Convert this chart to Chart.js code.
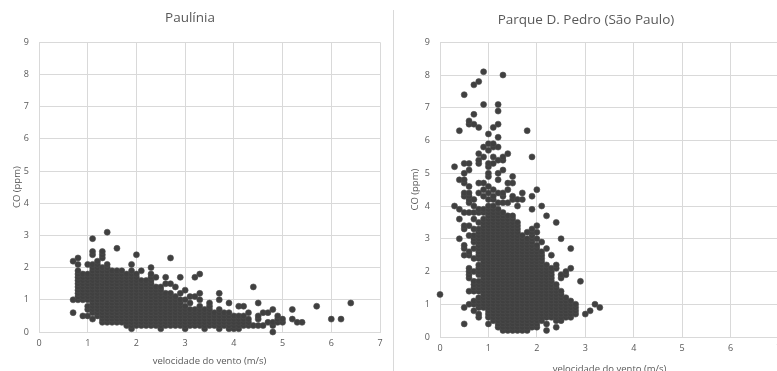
<!DOCTYPE html>
<html>
<head>
<meta charset="utf-8">
<script src="https://cdn.jsdelivr.net/npm/chart.js@4.4.1/dist/chart.umd.min.js"></script>
<style>
  html, body { margin: 0; padding: 0; background: #fff; overflow: hidden; width: 777px; height: 371px; }
  #left { position: absolute; left: 0; top: 0; }
  #right { position: absolute; left: 393px; top: 0; }
  #divider { position: absolute; left: 393px; top: 10px; width: 1px; height: 361px; background: #d9d9d9; }
</style>
</head>
<body>
<canvas id="left" width="390" height="371"></canvas>
<div id="divider"></div>
<canvas id="right" width="396" height="380"></canvas>
<script>
// wind speed columns (m/s) and the CO readings (ppm) seen in each column
const pauliniaWind = [0.7, 0.8, 0.9, 1.0, 1.1, 1.2, 1.3, 1.4, 1.5, 1.6, 1.7, 1.8, 1.9, 2.0, 2.1, 2.2, 2.3, 2.4, 2.5, 2.6, 2.7, 2.8, 2.9, 3.0, 3.1, 3.2, 3.3, 3.4, 3.5, 3.6, 3.7, 3.8, 3.9, 4.0, 4.1, 4.2, 4.3, 4.4, 4.5, 4.6, 4.7, 4.8, 4.9, 5.0, 5.2, 5.3, 5.4, 5.7, 6.0, 6.2, 6.4];
const pauliniaCO = [
  [0.6, 1.0, 2.2],
  [1.0, 1.1, 1.2, 1.3, 1.4, 1.5, 1.6, 1.7, 1.8, 1.9, 2.1, 2.3],
  [0.5, 1.0, 1.1, 1.2, 1.3, 1.4, 1.5, 1.6, 1.7, 1.8],
  [0.5, 0.7, 0.8, 1.0, 1.1, 1.2, 1.3, 1.4, 1.5, 1.6, 1.7, 1.8, 2.1],
  [0.4, 0.6, 0.7, 0.8, 0.9, 1.0, 1.1, 1.2, 1.3, 1.4, 1.5, 1.6, 1.7, 1.8, 1.9, 2.0, 2.1, 2.4, 2.5, 2.9],
  [0.5, 0.6, 0.7, 0.8, 0.9, 1.0, 1.1, 1.2, 1.3, 1.4, 1.5, 1.6, 1.7, 1.8, 1.9, 2.0, 2.1, 2.2],
  [0.3, 0.4, 0.5, 0.6, 0.7, 0.8, 0.9, 1.0, 1.1, 1.2, 1.3, 1.4, 1.5, 1.6, 1.7, 1.8, 1.9, 2.0, 2.3, 2.4, 2.5],
  [0.3, 0.4, 0.5, 0.6, 0.7, 0.8, 0.9, 1.0, 1.1, 1.2, 1.3, 1.4, 1.5, 1.6, 1.7, 1.8, 1.9, 2.0, 2.1, 3.1],
  [0.3, 0.4, 0.5, 0.6, 0.7, 0.8, 0.9, 1.0, 1.1, 1.2, 1.3, 1.4, 1.5, 1.6, 1.7, 1.8, 1.9],
  [0.3, 0.4, 0.5, 0.6, 0.7, 0.8, 0.9, 1.0, 1.1, 1.2, 1.3, 1.4, 1.5, 1.6, 1.7, 1.8, 1.9, 2.6],
  [0.3, 0.4, 0.5, 0.6, 0.7, 0.8, 0.9, 1.0, 1.1, 1.2, 1.3, 1.4, 1.5, 1.6, 1.7, 1.8, 1.9],
  [0.2, 0.3, 0.4, 0.5, 0.6, 0.7, 0.8, 0.9, 1.0, 1.1, 1.2, 1.3, 1.4, 1.5, 1.6, 1.7, 1.8],
  [0.1, 0.2, 0.3, 0.4, 0.5, 0.6, 0.7, 0.8, 0.9, 1.0, 1.1, 1.2, 1.3, 1.4, 1.5, 1.6, 1.7, 1.8, 1.9, 2.1],
  [0.2, 0.3, 0.4, 0.5, 0.6, 0.7, 0.8, 0.9, 1.0, 1.1, 1.2, 1.3, 1.4, 1.5, 1.6, 1.7, 1.8, 2.4],
  [0.2, 0.3, 0.4, 0.5, 0.6, 0.7, 0.8, 0.9, 1.0, 1.1, 1.2, 1.3, 1.4, 1.5, 1.6, 1.9],
  [0.2, 0.3, 0.4, 0.5, 0.6, 0.7, 0.8, 0.9, 1.0, 1.1, 1.2, 1.3, 1.4, 1.5, 1.6],
  [0.2, 0.3, 0.4, 0.5, 0.6, 0.7, 0.8, 0.9, 1.0, 1.1, 1.2, 1.3, 1.4, 1.5, 1.6, 1.7, 1.8, 2.0],
  [0.2, 0.3, 0.4, 0.5, 0.6, 0.7, 0.8, 0.9, 1.0, 1.1, 1.2, 1.3, 1.4, 1.7],
  [0.1, 0.2, 0.3, 0.4, 0.5, 0.6, 0.7, 0.8, 0.9, 1.0, 1.1, 1.2, 1.3, 1.4],
  [0.2, 0.3, 0.4, 0.5, 0.6, 0.7, 0.8, 0.9, 1.0, 1.1, 1.2, 1.5, 1.7],
  [0.2, 0.3, 0.4, 0.5, 0.6, 0.7, 0.8, 0.9, 1.0, 1.1, 1.2, 1.5, 2.3],
  [0.2, 0.3, 0.4, 0.5, 0.6, 0.7, 0.8, 0.9, 1.0, 1.1, 1.4],
  [0.2, 0.3, 0.4, 0.5, 0.6, 0.7, 0.8, 0.9, 1.0, 1.2, 1.7],
  [0.1, 0.2, 0.3, 0.4, 0.5, 0.6, 0.7, 0.8, 1.0, 1.3],
  [0.2, 0.3, 0.4, 0.5, 0.6, 0.7, 0.9, 1.1],
  [0.2, 0.3, 0.4, 0.5, 0.6, 0.7, 1.1, 1.7],
  [0.2, 0.3, 0.4, 0.5, 0.6, 0.7, 0.8, 1.0, 1.2, 1.8],
  [0.1, 0.2, 0.3, 0.4, 0.5, 0.6, 0.7],
  [0.2, 0.3, 0.4, 0.5, 0.6, 0.7, 0.8, 0.9],
  [0.2, 0.3, 0.4, 0.5, 0.6],
  [0.1, 0.2, 0.3, 0.4, 0.5, 0.6, 0.7, 1.0, 1.2],
  [0.2, 0.3, 0.4, 0.5, 0.6],
  [0.1, 0.2, 0.3, 0.4, 0.5, 0.6, 0.9],
  [0.1, 0.2, 0.3, 0.4, 0.5],
  [0.1, 0.2, 0.3, 0.4, 0.5, 0.8],
  [0.2, 0.3, 0.4, 0.5, 0.8],
  [0.2, 0.3, 0.4, 0.6],
  [0.2, 1.4],
  [0.2, 0.4, 0.5, 0.9],
  [0.2, 0.6],
  [0.3, 0.6],
  [0.0, 0.2, 0.3, 0.7],
  [0.3, 0.4, 0.5],
  [0.3, 0.4],
  [0.4, 0.7],
  [0.3],
  [0.3],
  [0.8],
  [0.4],
  [0.4],
  [0.9]
];

const pedroWind = [0.0, 0.3, 0.4, 0.5, 0.6, 0.7, 0.8, 0.9, 1.0, 1.1, 1.2, 1.3, 1.4, 1.5, 1.6, 1.7, 1.8, 1.9, 2.0, 2.1, 2.2, 2.3, 2.4, 2.5, 2.6, 2.7, 2.8, 2.9, 3.0, 3.1, 3.2, 3.3];
const pedroCO = [
  [1.3],
  [4.0, 5.2],
  [3.0, 3.6, 3.9, 4.8, 6.3],
  [0.4, 0.9, 2.5, 2.7, 2.8, 3.3, 3.4, 3.8, 4.3, 4.4, 4.7, 4.8, 5.0, 5.3, 7.4],
  [1.0, 1.4, 1.8, 1.9, 2.0, 2.1, 2.5, 2.6, 3.1, 3.4, 3.8, 4.1, 4.2, 4.3, 4.4, 4.6, 5.1, 5.3, 6.5, 6.6],
  [0.8, 1.0, 1.1, 1.4, 1.5, 1.6, 1.7, 2.0, 2.4, 2.7, 2.9, 3.0, 3.1, 3.3, 3.6, 3.8, 4.0, 4.2, 6.5, 6.8, 7.7],
  [0.6, 0.7, 0.9, 1.0, 1.1, 1.2, 1.4, 1.5, 1.6, 1.7, 1.9, 2.0, 2.1, 2.2, 2.4, 2.5, 2.6, 2.7, 2.8, 2.9, 3.0, 3.1, 3.2, 3.3, 3.5, 3.8, 3.9, 4.4, 4.7, 5.3, 5.4, 5.6, 6.4, 7.8],
  [0.9, 1.0, 1.1, 1.2, 1.3, 1.4, 1.5, 1.6, 1.7, 1.8, 1.9, 2.0, 2.1, 2.2, 2.3, 2.4, 2.5, 2.6, 2.7, 2.8, 2.9, 3.0, 3.1, 3.2, 3.3, 3.4, 3.5, 3.6, 3.8, 3.9, 4.3, 4.5, 4.7, 5.5, 5.8, 7.1, 8.1],
  [0.4, 0.6, 0.7, 0.8, 0.9, 1.0, 1.1, 1.2, 1.3, 1.4, 1.5, 1.6, 1.7, 1.8, 1.9, 2.0, 2.1, 2.2, 2.3, 2.4, 2.5, 2.6, 2.7, 2.8, 2.9, 3.0, 3.1, 3.2, 3.3, 3.4, 3.5, 3.6, 3.7, 3.8, 3.9, 4.0, 4.2, 4.4, 4.6, 4.9, 5.0, 5.2, 5.3, 5.7, 5.9, 6.2],
  [0.5, 0.6, 0.7, 0.8, 0.9, 1.0, 1.1, 1.2, 1.3, 1.4, 1.5, 1.6, 1.7, 1.8, 1.9, 2.0, 2.1, 2.2, 2.3, 2.4, 2.5, 2.6, 2.7, 2.8, 2.9, 3.0, 3.1, 3.2, 3.3, 3.4, 3.5, 3.6, 3.7, 3.8, 3.9, 4.0, 4.2, 4.3, 4.5, 5.3, 5.5, 5.8, 5.9, 6.4],
  [0.3, 0.4, 0.5, 0.6, 0.7, 0.8, 0.9, 1.0, 1.1, 1.2, 1.3, 1.4, 1.5, 1.6, 1.7, 1.8, 1.9, 2.0, 2.1, 2.2, 2.3, 2.4, 2.5, 2.6, 2.7, 2.8, 2.9, 3.0, 3.1, 3.2, 3.3, 3.4, 3.5, 3.6, 3.7, 3.8, 3.9, 4.1, 4.4, 4.8, 5.0, 5.4, 5.8, 6.1, 6.5, 6.9, 7.1],
  [0.2, 0.3, 0.4, 0.5, 0.6, 0.7, 0.8, 0.9, 1.0, 1.1, 1.2, 1.3, 1.4, 1.5, 1.6, 1.7, 1.8, 1.9, 2.0, 2.1, 2.2, 2.3, 2.4, 2.5, 2.6, 2.7, 2.8, 2.9, 3.0, 3.1, 3.2, 3.3, 3.4, 3.5, 3.6, 3.7, 3.8, 4.1, 4.3, 4.4, 5.1, 5.4, 5.5, 8.0],
  [0.2, 0.3, 0.4, 0.5, 0.6, 0.7, 0.8, 0.9, 1.0, 1.1, 1.2, 1.3, 1.4, 1.5, 1.6, 1.7, 1.8, 1.9, 2.0, 2.1, 2.2, 2.3, 2.4, 2.5, 2.6, 2.7, 2.8, 2.9, 3.0, 3.1, 3.2, 3.3, 3.4, 3.5, 3.6, 3.7, 4.1, 4.5, 4.7, 5.6],
  [0.2, 0.3, 0.4, 0.5, 0.6, 0.7, 0.8, 0.9, 1.0, 1.1, 1.2, 1.3, 1.4, 1.5, 1.6, 1.7, 1.8, 1.9, 2.0, 2.1, 2.2, 2.3, 2.4, 2.5, 2.6, 2.7, 2.8, 2.9, 3.0, 3.1, 3.2, 3.3, 3.4, 3.5, 3.6, 3.7, 4.2, 4.3, 4.7, 4.9],
  [0.2, 0.3, 0.4, 0.5, 0.6, 0.7, 0.8, 0.9, 1.0, 1.1, 1.2, 1.3, 1.4, 1.5, 1.6, 1.7, 1.8, 1.9, 2.0, 2.1, 2.2, 2.3, 2.4, 2.5, 2.6, 2.7, 2.8, 2.9, 3.0, 3.1, 3.2, 3.3, 3.4, 3.5, 4.0, 4.2],
  [0.2, 0.3, 0.4, 0.5, 0.6, 0.7, 0.8, 0.9, 1.0, 1.1, 1.2, 1.3, 1.4, 1.5, 1.6, 1.7, 1.8, 1.9, 2.0, 2.1, 2.2, 2.3, 2.4, 2.5, 2.6, 2.7, 2.8, 2.9, 3.0, 3.1, 4.2, 4.4],
  [0.2, 0.3, 0.4, 0.5, 0.6, 0.7, 0.8, 0.9, 1.0, 1.1, 1.2, 1.3, 1.4, 1.5, 1.6, 1.7, 1.8, 1.9, 2.0, 2.1, 2.2, 2.3, 2.4, 2.5, 2.6, 2.7, 2.8, 2.9, 3.0, 3.2, 6.3],
  [0.3, 0.4, 0.5, 0.6, 0.7, 0.8, 0.9, 1.0, 1.1, 1.2, 1.3, 1.4, 1.5, 1.6, 1.7, 1.8, 1.9, 2.0, 2.1, 2.2, 2.3, 2.4, 2.5, 2.6, 2.7, 2.8, 2.9, 3.0, 3.1, 3.2, 3.3, 3.9, 4.3, 5.5],
  [0.3, 0.4, 0.5, 0.6, 0.7, 0.8, 0.9, 1.0, 1.1, 1.2, 1.3, 1.4, 1.5, 1.6, 1.7, 1.8, 1.9, 2.0, 2.1, 2.2, 2.3, 2.4, 2.5, 2.6, 2.7, 2.8, 3.0, 3.2, 3.4, 4.5],
  [0.5, 0.6, 0.7, 0.8, 0.9, 1.0, 1.1, 1.2, 1.3, 1.4, 1.5, 1.6, 1.7, 1.8, 1.9, 2.0, 2.1, 2.2, 2.3, 2.4, 2.5, 2.6, 2.9, 4.0],
  [0.2, 0.4, 0.6, 0.7, 0.8, 0.9, 1.0, 1.1, 1.2, 1.3, 1.4, 1.5, 1.6, 1.7, 1.8, 1.9, 2.0, 2.1, 2.2, 2.7, 3.7],
  [0.6, 0.7, 0.8, 0.9, 1.0, 1.1, 1.2, 1.3, 1.4, 1.5, 1.6, 1.7, 1.8, 1.9, 2.0, 2.1, 2.5],
  [0.3, 0.5, 0.6, 0.7, 0.8, 0.9, 1.0, 1.1, 1.2, 1.3, 1.4, 1.5, 1.6, 2.1, 2.2, 3.5],
  [0.5, 0.6, 0.7, 0.8, 0.9, 1.0, 1.1, 1.2, 1.3, 1.4, 1.8, 1.9, 3.0],
  [0.6, 0.7, 0.8, 0.9, 1.0, 1.1, 1.2, 1.9, 2.0],
  [0.6, 0.7, 0.8, 0.9, 1.0, 1.1, 2.1, 2.7],
  [0.7, 0.8, 0.9, 1.0],
  [1.7],
  [0.7],
  [0.8],
  [1.0],
  [0.9]
];

const xTicksMax = 7;
const yTicksMax = 9;
const textColor = "#595959";
const gridColor = "#d9d9d9";
const fontFamily = "'Open Sans', 'Liberation Sans', sans-serif";

const toPoints = (winds, cols) => {
  const pts = [];
  winds.forEach((w, i) => {
    cols[i].forEach((c) => pts.push({ x: w, y: c }));
  });
  return pts;
};

const makeChart = (id, title, winds, cols, g) => {
  return new Chart(document.getElementById(id), {
    type: "scatter",
    data: {
      datasets: [
        {
          data: toPoints(winds, cols),
          backgroundColor: "#404040",
          borderColor: "#4d4d4d",
          borderWidth: 0.6,
          pointRadius: 3,
          pointHoverRadius: 3,
          clip: false,
        },
      ],
    },
    options: {
      responsive: false,
      animation: false,
      layout: { padding: { left: 0, right: g.padRight, top: 0, bottom: 0 } },
      plugins: {
        legend: { display: false },
        tooltip: { enabled: false },
        title: {
          display: true,
          text: title,
          color: textColor,
          font: { family: fontFamily, size: 13.5, weight: "normal" },
          padding: { top: g.titleTop, bottom: g.titleBottom },
        },
      },
      scales: {
        x: {
          type: "linear",
          min: 0,
          max: xTicksMax,
          ticks: { stepSize: 1, color: textColor, font: { family: fontFamily, size: 9 }, padding: 6, maxRotation: 0 },
          grid: { color: gridColor, drawTicks: false },
          border: { color: gridColor },
          title: {
            display: true,
            text: "velocidade do vento (m/s)",
            color: textColor,
            font: { family: fontFamily, size: 9.5 },
            padding: { top: 0, bottom: g.xTitleBottom },
          },
          afterFit: (s) => { s.height = g.xHeight; },
        },
        y: {
          min: 0,
          max: yTicksMax,
          ticks: { stepSize: 1, color: textColor, font: { family: fontFamily, size: 9 }, padding: 10 },
          grid: { color: gridColor, drawTicks: false },
          border: { color: gridColor },
          title: {
            display: true,
            text: "CO (ppm)",
            color: textColor,
            font: { family: fontFamily, size: 9.5 },
            padding: { top: g.yTitleTop, bottom: 0 },
          },
          afterFit: (s) => { s.width = g.yWidth; },
        },
      },
    },
  });
};

makeChart("left", "Paulínia", pauliniaWind, pauliniaCO, {
  padRight: 10, titleTop: 10.2, titleBottom: 15.9, xHeight: 39, xTitleBottom: 3.6, yWidth: 39, yTitleTop: 11.3,
});
makeChart("right", "Parque D. Pedro (São Paulo)", pedroWind, pedroCO, {
  padRight: 10, titleTop: 11.9, titleBottom: 14.2, xHeight: 43, xTitleBottom: 5, yWidth: 47, yTitleTop: 16.3,
});
</script>
</body>
</html>
